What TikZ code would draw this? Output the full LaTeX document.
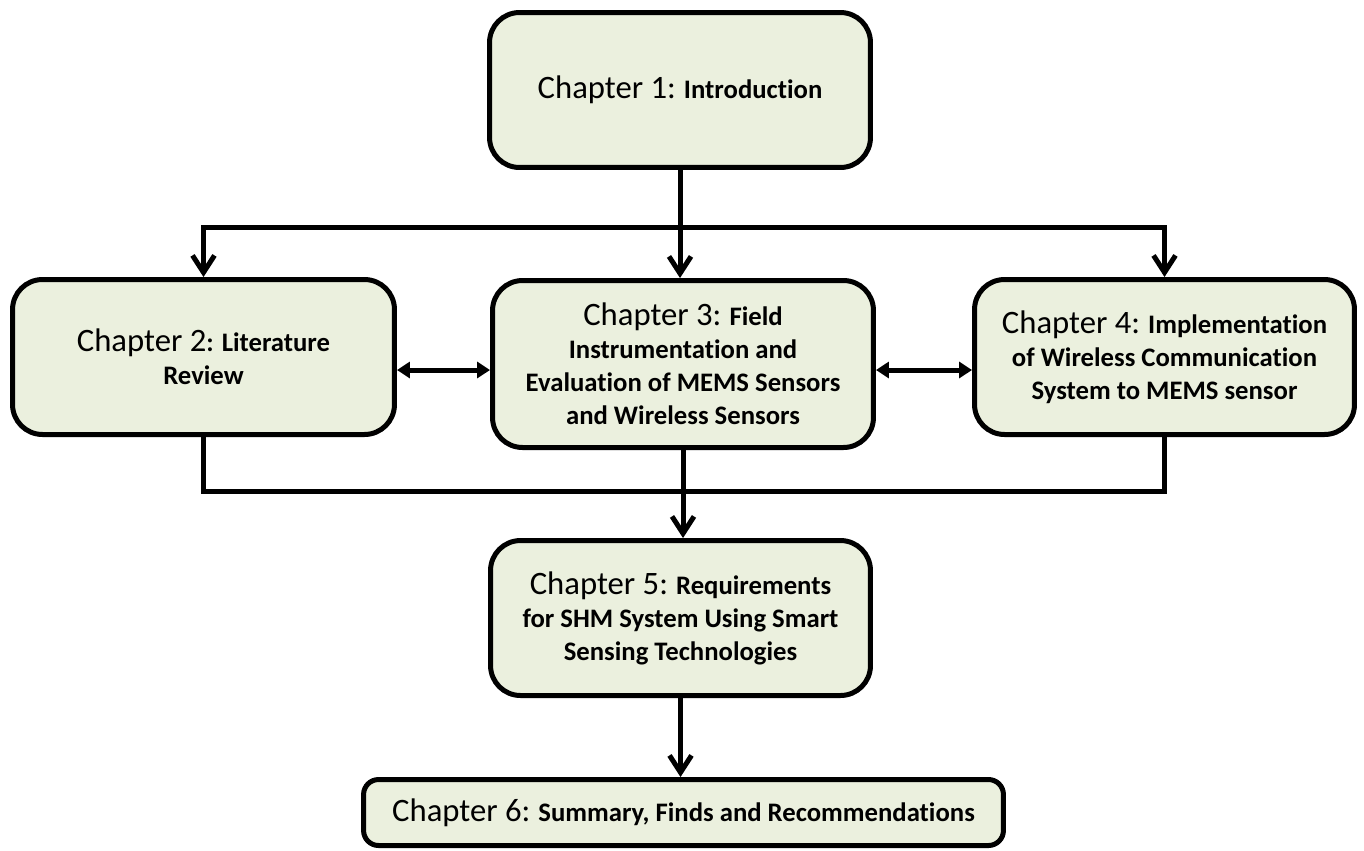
\documentclass[tikz,border=0pt]{standalone}
\usepackage{fontspec}
\setmainfont{Carlito}[Ligatures=CommonOff]
\usetikzlibrary{arrows.meta}
\definecolor{boxfill}{HTML}{EBF0DE}
\newcommand{\chap}[1]{{\mdseries\fontsize{18.6}{18.8}\selectfont #1}}
\tikzset{
  chapbox/.style={draw=black, line width=0.1cm, fill=boxfill, rounded corners=0.6cm,
    align=center, inner sep=0pt, font=\fontsize{15.2}{18.8}\selectfont\bfseries},
  conn/.style={line width=0.1cm, draw=black},
  barb/.style={conn, -{Straight Barb[length=0.34cm,width=0.44cm]}},
  barbs/.style={conn, {Straight Barb[length=0.34cm,width=0.44cm]}-{Straight Barb[length=0.34cm,width=0.44cm]}},
  dbl/.style={conn, {Triangle[length=0.26cm,width=0.32cm]}-{Triangle[length=0.26cm,width=0.32cm]}}
}
\begin{document}
\begin{tikzpicture}[x=0.02cm,y=-0.02cm]
\useasboundingbox (0,0) rectangle (1364,850);

\node[chapbox, minimum width=7.62cm, minimum height=3.1cm] (b1) at (680,90)
  {\chap{Chapter 1:} Introduction};
\node[chapbox, minimum width=7.64cm, minimum height=3.1cm] (b2) at (203.5,357)
  {\chap{Chapter 2}: Literature\\Review};
\node[chapbox, minimum width=7.62cm, minimum height=3.34cm] (b3) at (683,364)
  {\chap{Chapter 3:} Field\\Instrumentation and\\Evaluation of MEMS Sensors\\and Wireless Sensors};
\node[chapbox, minimum width=7.6cm, minimum height=3.1cm] (b4) at (1164.5,357)
  {\chap{Chapter 4:} Implementation\\of Wireless Communication\\System to MEMS sensor};
\node[chapbox, minimum width=7.6cm, minimum height=3.1cm] (b5) at (680.5,618)
  {\chap{Chapter 5:} Requirements\\for SHM System Using Smart\\Sensing Technologies};
\node[chapbox, rounded corners=0.3cm, minimum width=12.8cm, minimum height=1.32cm] (b6) at (683.5,812.5)
  {\chap{Chapter 6:} Summary, Finds and Recommendations};

\coordinate (topbar) at (683,227);
\coordinate (botbar) at (683,491);

% Chapter 1 to Chapter 3
\draw[barb] (b1.south) -- (b1.south |- b3.north);
% top distribution bar to Chapters 2 and 4
\draw[barbs] (b2.north) -- (b2.north |- topbar) -- (b4.north |- topbar) -- (b4.north);
% side links
\draw[dbl] ([yshift=-0.26cm]b2.east) -- ([yshift=-0.26cm]b2.east -| b3.west);
\draw[dbl] ([yshift=-0.26cm]b2.east -| b3.east) -- ([yshift=-0.26cm]b2.east -| b4.west);
% bottom collection bar
\draw[conn] (b2.south) -- (b2.south |- botbar) -- (b4.south |- botbar) -- (b4.south);
\draw[barb] (b3.south) -- (b3.south |- b5.north);
\draw[barb] (b5.south) -- (b5.south |- b6.north);
\end{tikzpicture}
\end{document}
